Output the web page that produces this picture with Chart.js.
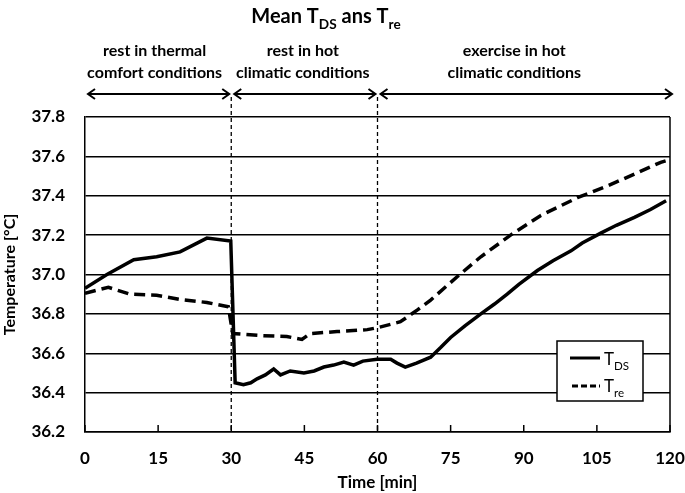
<!DOCTYPE html>
<html>
<head>
<meta charset="utf-8">
<script src="https://cdn.jsdelivr.net/npm/chart.js@4.4.1/dist/chart.umd.min.js"></script>
<style>
html,body{margin:0;padding:0;background:#fff;}
#wrap{width:685px;height:493px;position:relative;}
</style>
</head>
<body>
<div id="wrap"><canvas id="c" width="685" height="493"></canvas></div>
<script>
const timesTDS = [0, 4.5, 10, 14.7, 19.5, 25, 29.9, 30.8, 32.5, 34, 35.3, 37, 38.7, 40.1, 42.1, 44.9, 47, 49, 51, 53.1, 55.1, 57, 59.9, 62.7, 64, 65.7, 68, 70.9, 73, 75, 78, 81.2, 84, 86.6, 89, 92.8, 96, 99.7, 102, 105.8, 109, 112.7, 116, 119.2];
const valuesTDS = [36.93, 37.0, 37.075, 37.09, 37.115, 37.185, 37.17, 36.45, 36.44, 36.45, 36.47, 36.49, 36.52, 36.49, 36.51, 36.5, 36.51, 36.53, 36.54, 36.555, 36.54, 36.56, 36.57, 36.57, 36.55, 36.53, 36.55, 36.58, 36.63, 36.68, 36.74, 36.8, 36.85, 36.9, 36.95, 37.02, 37.07, 37.12, 37.16, 37.21, 37.25, 37.29, 37.33, 37.375];
const timesTre = [0, 4.8, 9.2, 14.7, 19.5, 25, 29.4, 30.3, 36, 41.4, 44.5, 46.2, 51.7, 55, 57.9, 60, 64.7, 68.2, 70.9, 76.4, 81.2, 87.3, 93.5, 101, 107.2, 112.7, 118.1, 119.5];
const valuesTre = [36.905, 36.935, 36.9, 36.895, 36.873, 36.858, 36.836, 36.70, 36.69, 36.685, 36.67, 36.70, 36.71, 36.715, 36.72, 36.73, 36.76, 36.82, 36.87, 36.99, 37.09, 37.2, 37.3, 37.39, 37.45, 37.51, 37.57, 37.58];
const xTicks = [0, 15, 30, 45, 60, 75, 90, 105, 120];
const phaseBounds = [0, 30, 60, 120];
const phaseLabels = [["rest in thermal", "comfort conditions"], ["rest in hot", "climatic conditions"], ["exercise in hot", "climatic conditions"]];

const FONT = "Lato, 'Open Sans', sans-serif";

function drawSubText(ctx, parts, x, y, size, align, weight) {
  let total = 0;
  const widths = parts.map(p => {
    ctx.font = weight + " " + (p[1] ? size * 0.68 : size) + "px " + FONT;
    const w = ctx.measureText(p[0]).width;
    total += w;
    return w;
  });
  let cx = align === 'center' ? x - total / 2 : x;
  parts.forEach((p, i) => {
    ctx.font = weight + " " + (p[1] ? size * 0.68 : size) + "px " + FONT;
    ctx.textAlign = 'left';
    ctx.textBaseline = 'alphabetic';
    ctx.fillText(p[0], cx, p[1] ? y + size * 0.28 : y);
    cx += widths[i];
  });
}

const decor = {
  id: 'decor',
  afterDatasetsDraw(chart) {
    const ctx = chart.ctx;
    const xs = chart.scales.x;
    const a = chart.chartArea;
    ctx.save();
    ctx.strokeStyle = '#000';
    ctx.fillStyle = '#000';
    ctx.lineWidth = 1.5;
    ctx.beginPath(); ctx.moveTo(a.right, a.top); ctx.lineTo(a.right, a.bottom); ctx.stroke();
    xTicks.forEach(t => {
      const px = xs.getPixelForValue(t);
      ctx.beginPath(); ctx.moveTo(px, a.bottom); ctx.lineTo(px, a.bottom - 7); ctx.stroke();
    });
    ctx.lineWidth = 1.3;
    ctx.setLineDash([4, 3]);
    [phaseBounds[1], phaseBounds[2]].forEach(t => {
      const px = xs.getPixelForValue(t);
      ctx.beginPath(); ctx.moveTo(px, 97); ctx.lineTo(px, a.bottom); ctx.stroke();
    });
    ctx.setLineDash([]);
    const ay = 94;
    ctx.lineWidth = 2;
    const labelShift = [-4, -2, -12];
    for (let i = 0; i < 3; i++) {
      const x1 = xs.getPixelForValue(phaseBounds[i]) + 3;
      const x2 = xs.getPixelForValue(phaseBounds[i + 1]) + (i === 2 ? 2 : -2);
      ctx.beginPath(); ctx.moveTo(x1, ay); ctx.lineTo(x2, ay); ctx.stroke();
      ctx.beginPath(); ctx.moveTo(x1 + 7, ay - 5); ctx.lineTo(x1, ay); ctx.lineTo(x1 + 7, ay + 5); ctx.stroke();
      ctx.beginPath(); ctx.moveTo(x2 - 7, ay - 5); ctx.lineTo(x2, ay); ctx.lineTo(x2 - 7, ay + 5); ctx.stroke();
      const cx = (x1 + x2) / 2 + labelShift[i];
      ctx.font = "bold 16px " + FONT;
      ctx.textAlign = 'center';
      ctx.textBaseline = 'middle';
      ctx.fillText(phaseLabels[i][0], cx, 51);
      ctx.fillText(phaseLabels[i][1], cx, 73);
    }
    drawSubText(ctx, [["Mean T", false], ["DS", true], [" ans T", false], ["re", true]], 326, 23, 20, 'center', 'bold');
    const lx = 557, ly = 341, lw = 86, lh = 60;
    ctx.fillStyle = '#fff';
    ctx.fillRect(lx, ly, lw, lh);
    ctx.lineWidth = 1.5;
    ctx.strokeRect(lx, ly, lw, lh);
    ctx.fillStyle = '#000';
    ctx.lineWidth = 3;
    ctx.beginPath(); ctx.moveTo(570, 358); ctx.lineTo(600, 358); ctx.stroke();
    ctx.setLineDash([6, 3]);
    ctx.beginPath(); ctx.moveTo(572, 386); ctx.lineTo(600, 386); ctx.stroke();
    ctx.setLineDash([]);
    drawSubText(ctx, [["T", false], ["DS", true]], 604, 365, 17, 'left', 'normal');
    drawSubText(ctx, [["T", false], ["re", true]], 604, 392, 17, 'left', 'normal');
    ctx.restore();
  }
};

new Chart(document.getElementById('c'), {
  type: 'line',
  data: {
    datasets: [
      {
        label: 'TDS',
        data: timesTDS.map((t, i) => ({x: t, y: valuesTDS[i]})),
        borderColor: '#000',
        borderWidth: 3.5,
        pointRadius: 0,
        tension: 0,
        fill: false
      },
      {
        label: 'Tre',
        data: timesTre.map((t, i) => ({x: t, y: valuesTre[i]})),
        borderColor: '#000',
        borderWidth: 3.5,
        borderDash: [11, 6],
        pointRadius: 0,
        tension: 0,
        fill: false
      }
    ]
  },
  options: {
    responsive: false,
    animation: false,
    layout: {padding: {top: 117, right: 15, left: 0, bottom: 0}},
    plugins: {legend: {display: false}, title: {display: false}, tooltip: {enabled: false}},
    scales: {
      x: {
        type: 'linear',
        min: 0, max: 120,
        afterFit: s => { s.height = 61; s.paddingRight = 0; s.paddingLeft = 0; },
        afterBuildTicks: s => { s.ticks = xTicks.map(v => ({value: v})); },
        grid: {display: false, drawTicks: false},
        border: {display: true, color: '#000', width: 1.5},
        ticks: {color: '#000', padding: 16, font: {family: FONT, size: 17, weight: 'bold'}, maxRotation: 0},
        title: {display: true, text: 'Time [min]', color: '#000', font: {family: FONT, size: 17, weight: 'bold'}, padding: {top: 0, bottom: 0}}
      },
      y: {
        min: 36.2, max: 37.8,
        afterFit: s => { s.width = 85; },
        ticks: {stepSize: 0.2, color: '#000', padding: 20, font: {family: FONT, size: 17, weight: 'bold'}, callback: v => v.toFixed(1)},
        grid: {color: '#000', lineWidth: 1.5, drawTicks: false},
        border: {display: true, color: '#000', width: 1.5},
        title: {display: true, text: 'Temperature [°C]', color: '#000', font: {family: FONT, size: 16, weight: 'bold'}, padding: {top: 0, bottom: 2}}
      }
    }
  },
  plugins: [decor]
});
</script>
</body>
</html>
